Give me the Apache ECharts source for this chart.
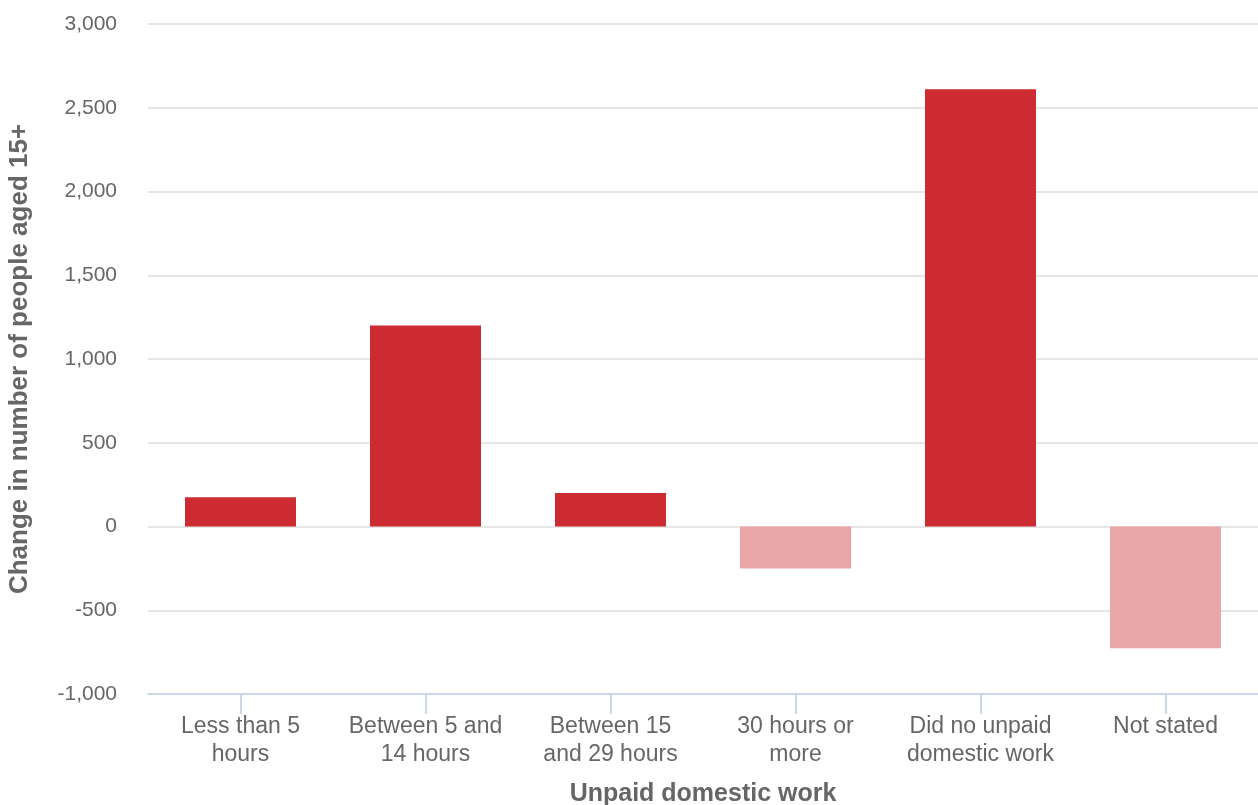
<!DOCTYPE html>
<html>
<head>
<meta charset="utf-8">
<script src="https://cdn.jsdelivr.net/npm/echarts@6/dist/echarts.min.js"></script>
<style>
html,body{margin:0;padding:0;background:#fff;}
#c{width:1258px;height:805px;}
</style>
</head>
<body>
<div id="c"></div>
<script>
const categories = ["Less than 5\nhours", "Between 5 and\n14 hours", "Between 15\nand 29 hours", "30 hours or\nmore", "Did no unpaid\ndomestic work", "Not stated"];
const values = [175, 1200, 200, -250, 2610, -727];
const yTicks = { min: -1000, max: 3000, interval: 500 };
const xTitle = "Unpaid domestic work";
const yTitle = "Change in number of people aged 15+";

const chart = echarts.init(document.getElementById('c'));
const font = "'Liberation Sans', Arial, sans-serif";
chart.setOption({
  animation: false,
  grid: { left: 148, right: 0, top: 24, bottom: 111, containLabel: false, outerBoundsMode: 'none' },
  xAxis: {
    type: 'category',
    data: categories,
    name: xTitle,
    nameLocation: 'middle',
    nameGap: 88,
    nameTextStyle: { color: '#666666', fontSize: 25, fontWeight: 'bold', fontFamily: font },
    axisLine: { onZero: false, lineStyle: { color: '#ccd6eb', width: 2 } },
    axisTick: { show: true, alignWithLabel: true, length: 20, lineStyle: { color: '#ccd6eb', width: 2 } },
    axisLabel: { color: '#666666', fontSize: 23, fontFamily: font, lineHeight: 28, margin: 19, interval: 0 }
  },
  yAxis: {
    type: 'value',
    min: yTicks.min, max: yTicks.max, interval: yTicks.interval,
    name: yTitle,
    nameLocation: 'middle',
    nameGap: 115,
    nameTextStyle: { color: '#666666', fontSize: 26, fontWeight: 'bold', fontFamily: font },
    axisLine: { show: false },
    axisTick: { show: false },
    splitLine: { lineStyle: { color: '#e6e6e6', width: 2 } },
    axisLabel: {
      color: '#666666', fontSize: 21, fontFamily: font, margin: 31,
      formatter: v => v.toLocaleString('en-US')
    }
  },
  series: [{
    type: 'bar',
    data: values,
    barWidth: '60%',
    itemStyle: { color: p => p.value >= 0 ? '#cc2c31' : '#eaa5a6' }
  }]
});
</script>
</body>
</html>
